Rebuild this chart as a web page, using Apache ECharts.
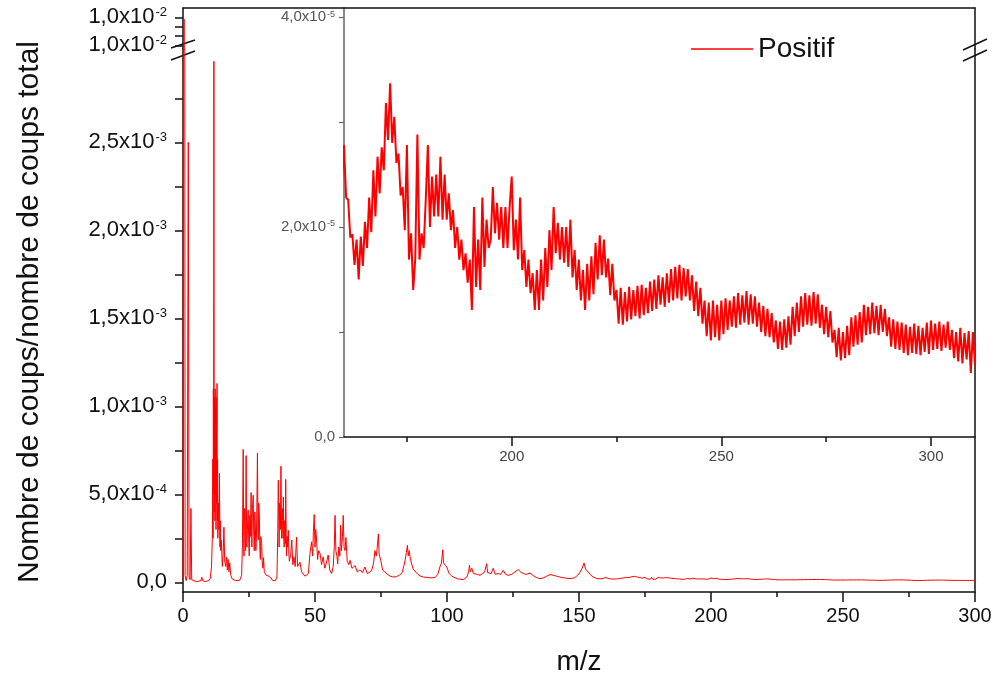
<!DOCTYPE html>
<html><head><meta charset="utf-8">
<script src="https://cdn.jsdelivr.net/npm/echarts@6/dist/echarts.min.js"></script>
<style>html,body{margin:0;padding:0;background:#fff}#c{width:996px;height:681px}</style>
</head><body><div id="c"></div>
<script>
// values in units of 1e-6 (counts / total counts)
const mainSpectrum = [
[0,8],[0.4,10020],[0.8,40],[1.2,10],[1.6,40],[2.0,2500],[2.3,30],[2.7,15],[3.0,420],[3.3,15],[4.0,5],[5.0,4],[6.0,6],[6.8,10],[7.1,30],[7.5,8],[8.5,5],[9.5,8],
[10.3,20],[10.8,90],[11.1,250],[11.3,700],[11.4,250],[11.5,1100],[11.6,500],[11.7,2960],[11.8,900],[11.9,400],[12.0,1050],[12.1,350],[12.2,1100],[12.3,500],[12.4,1000],[12.5,300],[12.6,1050],[12.7,450],[12.8,800],[12.9,1130],[13.0,350],[13.1,700],[13.2,250],[13.4,450],[13.6,300],[13.8,620],[14.0,200],[14.1,350],[14.3,180],[14.5,240],[14.9,90],[15.2,160],[15.5,313],[15.8,120],[16.2,90],[16.5,144],[16.8,70],[17.1,130],[17.4,60],[17.7,110],[18.1,40],[18.6,20],[19.5,12],[20.5,10],[21.5,12],
[22.2,40],[22.5,200],[22.8,755],[23.0,250],[23.1,150],[23.3,420],[23.5,300],[23.7,180],[23.9,720],[24.1,300],[24.2,200],[24.5,350],[24.7,410],[24.9,220],[25.1,150],[25.3,380],[25.5,260],[25.8,510],[26.0,250],[26.1,200],[26.3,420],[26.6,495],[26.8,260],[27.0,180],[27.2,400],[27.4,320],[27.6,180],[27.8,250],[28.0,450],[28.2,735],[28.4,300],[28.5,240],[28.7,450],[28.9,390],[29.1,200],[29.3,130],[29.5,260],[29.8,220],[30.0,120],[30.3,80],[30.5,140],[30.8,60],[31.5,40],[32.5,35],[33.3,25],[34.0,10],[35.0,10],
[35.6,30],[35.9,300],[36.1,580],[36.3,350],[36.4,200],[36.6,450],[36.7,400],[36.9,300],[37.1,660],[37.3,350],[37.4,250],[37.6,420],[37.7,380],[37.9,250],[38.0,485],[38.2,280],[38.3,200],[38.5,350],[38.6,300],[38.8,220],[38.9,585],[39.1,250],[39.2,150],[39.4,260],[39.5,200],[39.9,295],[40.1,160],[40.3,120],[40.8,160],[41.2,240],[41.6,100],[42.0,145],[42.5,90],[43.0,257],[43.4,90],[43.9,80],[44.3,115],[44.9,60],[45.6,50],[46.2,35],[46.8,30],
[47.5,50],[48.1,165],[48.7,230],[49.1,150],[49.4,290],[49.7,385],[50.0,200],[50.3,300],[50.6,240],[51.0,130],[51.4,180],[51.9,165],[52.5,100],[53.1,145],[53.7,80],[54.3,110],[55.0,155],[55.6,70],[56.3,50],
[56.9,90],[57.3,200],[57.6,380],[57.9,180],[58.3,150],[58.6,105],[59.0,200],[59.4,150],[59.7,325],[60.0,180],[60.4,260],[60.7,380],[61.0,200],[61.4,180],[61.7,255],[62.2,120],[62.8,100],[63.3,125],[64.0,80],[64.6,70],[65.2,95],[66.0,60],[67.0,70],[68.0,55],[68.9,87],[69.8,50],[70.8,58],
[71.5,70],[72.2,110],[72.7,180],[73.2,150],[73.6,200],[74.0,275],[74.3,160],[74.9,125],[75.6,70],[76.5,58],[77.5,45],[78.5,35],[79.7,30],[80.8,32],[82.0,40],[83.0,55],[83.6,90],[84.2,130],[84.6,170],[85.0,210],[85.3,150],[85.7,180],[86.0,145],[86.5,110],[87.2,75],[87.9,70],[89.0,45],[90.0,35],[91.0,30],[92.5,28],[94.0,25],[95.5,28],
[96.5,45],[97.3,87],[97.9,110],[98.4,185],[98.7,110],[99.2,100],[99.9,87],[100.8,50],[101.6,38],[102.4,30],[104.0,20],[106.2,15],[107.5,30],[108.2,60],[108.5,97],[108.8,60],[109.4,80],[110.0,50],[110.6,58],[111.5,45],[112.5,40],[113.5,50],[114.3,60],[115.0,106],[115.4,55],[116.0,58],[116.7,50],[117.5,80],[118.3,45],[119.4,50],[120.3,45],[121.3,68],[122.2,45],[123.2,40],
[124.5,45],[125.8,60],[127.0,72],[128.0,58],[128.9,50],[130.0,45],[131.4,53],[132.5,40],[133.8,28],[135.2,21],[136.5,25],[137.8,35],[139.0,44],[140.2,40],[141.5,35],[142.8,30],[144.5,25],[146.6,21],[148.2,25],[149.5,40],[150.4,58],[151.2,80],[151.9,110],[152.5,75],[153.5,58],[154.5,40],[155.5,30],[156.7,21],[158.0,20],[159.2,22]
];
const tailSpectrum = [
[160,27.8],[160.5,22.8],[161,22.6],[161.5,19.0],[162,19.3],[162.5,16.4],[163,18.8],[163.5,15.0],[164,19.1],[164.5,16.3],[165,20.5],[165.5,18.0],[166,22.8],[166.5,19.5],[167,25.4],[167.5,21.0],[168,26.7],[168.5,23.2],[169,27.6],[169.5,25.4],
[170,31.8],[170.5,28.3],[171,33.7],[171.5,28.0],[172,30.5],[172.5,26.1],[173,27.0],[173.5,23.0],[174,23.8],[174.5,19.7],[175,27.8],[175.5,16.9],[176,19.4],[176.5,14.0],[177,17.0],[177.5,28.8],[178,16.9],[178.5,19.4],[179,18.0],[179.5,22.6],
[180,27.8],[180.5,20.0],[181,24.8],[181.5,21.0],[182,25.0],[182.5,21.0],[183,26.7],[183.5,20.7],[184,25.0],[184.5,20.7],[185,23.2],[185.5,19.7],[186,21.6],[186.5,18.0],[187,20.0],[187.5,16.9],[188,18.8],[188.5,15.9],[189,17.5],[189.5,14.7],
[190,16.9],[190.5,12.1],[191,21.9],[191.5,14.3],[192,18.8],[192.5,14.0],[193,22.8],[193.5,16.2],[194,20.7],[194.5,18.0],[195,18.8],[195.5,23.8],[196,19.4],[196.5,22.3],[197,18.8],[197.5,21.9],[198,18.0],[198.5,21.9],[199,18.0],[199.5,21.9],
[200,24.8],[200.5,17.8],[201,20.7],[201.5,16.9],[202,22.8],[202.5,15.9],[203,17.8],[203.5,14.3],[204,16.9],[204.5,13.7],[205,15.6],[205.5,12.1],[206,15.9],[206.5,12.1],[207,16.9],[207.5,13.0],[208,18.0],[208.5,14.3],[209,19.7],[209.5,15.9],
[210,21.9],[210.5,17.5],[211,20.4],[211.5,16.9],[212,20.0],[212.5,16.6],[213,20.0],[213.5,16.2],[214,20.7],[214.5,15.2],[215,17.8],[215.5,14.0],[216,16.9],[216.5,13.0],[217,15.9],[217.5,12.1],[218,16.5],[218.5,13.0],[219,17.2],[219.5,13.6],
[220,18.5],[220.5,15.0],[221,19.2],[221.5,15.4],[222,18.8],[222.5,15.2],[223,17.0],[223.5,13.5],[224,16.5],[224.5,13.0],[225,14.0],[225.5,10.8],[226,14.2],[226.5,10.7],[227,13.8],[227.5,11.0],[228,14.3],[228.5,11.2],[229,14.0],[229.5,11.5],
[230,14.4],[230.5,11.3],[231,14.5],[231.5,11.6],[232,14.2],[232.5,11.8],[233,14.8],[233.5,12.0],[234,15.0],[234.5,12.2],[235,15.4],[235.5,12.6],[236,15.2],[236.5,12.4],[237,15.6],[237.5,12.8],[238,16.0],[238.5,13.0],[239,16.2],[239.5,13.2],
[240,16.4],[240.5,13.0],[241,16.1],[241.5,13.4],[242,16.0],[242.5,13.0],[243,15.4],[243.5,12.0],[244,14.8],[244.5,11.5],[245,14.2],[245.5,10.8],[246,13.0],[246.5,9.6],[247,12.8],[247.5,9.2],[248,13.0],[248.5,9.5],[249,12.6],[249.5,9.2],
[250,13.0],[250.5,9.8],[251,13.2],[251.5,10.2],[252,13.0],[252.5,10.5],[253,13.4],[253.5,10.4],[254,13.7],[254.5,10.7],[255,13.5],[255.5,10.9],[256,13.9],[256.5,10.7],[257,13.6],[257.5,10.8],[258,13.4],[258.5,10.5],[259,12.8],[259.5,10.0],
[260,12.5],[260.5,9.6],[261,12.2],[261.5,9.5],[262,11.8],[262.5,9.0],[263,11.1],[263.5,8.4],[264,11.0],[264.5,8.3],[265,11.2],[265.5,8.5],[266,11.5],[266.5,8.8],[267,12.4],[267.5,9.6],[268,12.8],[268.5,10.0],[269,13.4],[269.5,10.5],
[270,13.7],[270.5,10.7],[271,13.5],[271.5,10.6],[272,13.8],[272.5,10.8],[273,13.6],[273.5,10.4],[274,12.6],[274.5,9.8],[275,12.4],[275.5,9.5],[276,12.0],[276.5,9.0],[277,10.2],[277.5,7.6],[278,10.4],[278.5,7.3],[279,10.0],[279.5,7.5],
[280,10.6],[280.5,7.8],[281,11.4],[281.5,8.6],[282,11.6],[282.5,8.8],[283,11.9],[283.5,9.0],[284,12.6],[284.5,9.7],[285,12.4],[285.5,9.8],[286,12.8],[286.5,9.9],[287,12.5],[287.5,9.7],[288,12.6],[288.5,10.0],[289,12.2],[289.5,9.6],
[290,11.4],[290.5,8.6],[291,11.2],[291.5,8.4],[292,11.0],[292.5,8.3],[293,10.9],[293.5,8.0],[294,10.7],[294.5,7.8],[295,10.5],[295.5,8.0],[296,10.8],[296.5,7.9],[297,10.6],[297.5,7.8],[298,10.4],[298.5,8.1],[299,10.9],[299.5,7.9],
[300,11.1],[300.5,8.3],[301,10.8],[301.5,8.4],[302,11.0],[302.5,8.2],[303,10.7],[303.5,8.5],[304,11.0],[304.5,8.3],[305,10.2],[305.5,7.5],[306,10.0],[306.5,7.2],[307,10.4],[307.5,7.0],[308,9.9],[308.5,7.4],[309,10.1],[309.5,6.1],[310,10.0],[310.5,6.9]
];
const seriesName = 'Positif';
const mainXTicks = [0,50,100,150,200,250,300];
const lowerYTicks = [0,250,500,750,1000,1250,1500,1750,2000,2250,2500,2750];
const lowerYLabelValues = [0,500,1000,1500,2000,2500];
const lowerYLabels = ['0,0','5,0x10|-4','1,0x10|-3','1,5x10|-3','2,0x10|-3','2,5x10|-3'];
const upperYTicks = [9950,9975,10000,10025];
const upperYLabelValues = [9950,10025];
const upperYLabels = ['1,0x10|-2','1,0x10|-2'];
const insetXMajor = [200,250,300];
const insetXMinor = [175,225,275];
const insetYTicks = [0,10,20,30,40];
const insetYLabelValues = [0,20,40];
const insetYLabels = ['0,0','2,0x10|-5','4,0x10|-5'];
const xTitle = 'm/z';
const yTitle = 'Nombre de coups/nombre de coups total';

const FONT = 'Liberation Sans, Arial, sans-serif';
const data = mainSpectrum.concat(tailSpectrum);

function labelFmt(vals, labels) {
  return function (v) {
    const i = vals.indexOf(v);
    if (i < 0) return '';
    const parts = labels[i].split('|');
    return parts.length > 1 ? '{b|' + parts[0] + '}{s|' + parts[1] + '}' : '{b|' + parts[0] + '}';
  };
}
function rich(big, small, color, lift) {
  return {
    b: { fontSize: big, fontFamily: FONT, color: color, lineHeight: big + 2 },
    s: { fontSize: small, fontFamily: FONT, color: color, lineHeight: small, padding: [0, 0, lift, 1] }
  };
}

const chart = echarts.init(document.getElementById('c'));
const axisBlack = { lineStyle: { color: '#111', width: 1.5 } };

chart.setOption({
  animation: false,
  backgroundColor: '#fff',
  grid: [
    { left: 183, right: 21, top: 8, height: 41 },
    { left: 183, right: 21, top: 49, bottom: 89 },
    { left: 344, right: 21, top: 8, bottom: 244 }
  ],
  legend: {
    data: [{ name: seriesName, icon: 'rect' }], left: 686, top: 30, itemWidth: 62, itemHeight: 1.5, itemGap: 6,
    textStyle: { fontSize: 28, fontFamily: FONT, color: '#111' }
  },
  xAxis: [
    { gridIndex: 0, type: 'value', min: 0, max: 300, position: 'top',
      axisLine: { show: true, onZero: false, ...axisBlack }, axisTick: { show: false }, axisLabel: { show: false }, splitLine: { show: false } },
    { gridIndex: 1, type: 'value', min: 0, max: 300, interval: 50, position: 'bottom',
      axisLine: { show: true, onZero: false, ...axisBlack },
      axisTick: { show: true, length: 10, lineStyle: { color: '#111', width: 1.5 } },
      minorTick: { show: true, splitNumber: 2, length: 5, lineStyle: { color: '#111', width: 1.5 } },
      axisLabel: { fontSize: 20, fontFamily: FONT, color: '#111', margin: 14,
        formatter: v => (mainXTicks.indexOf(v) >= 0 ? String(v) : '') },
      splitLine: { show: false },
      name: xTitle, nameLocation: 'middle', nameGap: 56,
      nameTextStyle: { fontSize: 28, fontFamily: FONT, color: '#111' } },
    { gridIndex: 2, type: 'value', min: 160, max: 310.5, position: 'bottom',
      axisLine: { show: true, onZero: false, ...axisBlack },
      axisTick: { show: true, length: 9, customValues: insetXMajor, lineStyle: { color: '#111', width: 1.5 } },
      axisLabel: { customValues: insetXMajor, fontSize: 15, fontFamily: FONT, color: '#444', margin: 12 },
      splitLine: { show: false } },
    { gridIndex: 2, type: 'value', min: 160, max: 310.5, position: 'bottom', offset: 0,
      axisLine: { show: false, onZero: false },
      axisTick: { show: true, length: 5, customValues: insetXMinor, lineStyle: { color: '#111', width: 1.5 } },
      axisLabel: { show: false }, splitLine: { show: false } }
  ],
  yAxis: [
    { gridIndex: 0, type: 'value', min: 9940, max: 10050, position: 'left',
      axisLine: { show: true, onZero: false, ...axisBlack },
      axisTick: { show: true, length: 8, customValues: upperYTicks, lineStyle: { color: '#111', width: 1.5 } },
      axisLabel: { customValues: upperYLabelValues, margin: 16, formatter: labelFmt(upperYLabelValues, upperYLabels), rich: rich(22, 13, '#111', 9) },
      splitLine: { show: false } },
    { gridIndex: 1, type: 'value', min: -55, max: 3030, position: 'left',
      axisLine: { show: true, onZero: false, ...axisBlack },
      axisTick: { show: true, length: 8, customValues: lowerYTicks, lineStyle: { color: '#111', width: 1.5 } },
      axisLabel: { customValues: lowerYLabelValues, margin: 16, formatter: labelFmt(lowerYLabelValues, lowerYLabels), rich: rich(22, 13, '#111', 9) },
      splitLine: { show: false } },
    { gridIndex: 2, type: 'value', min: 0, max: 40.86, position: 'left',
      axisLine: { show: true, onZero: false, lineStyle: { color: '#666', width: 1.5 } },
      axisTick: { show: true, length: 5, customValues: insetYTicks, lineStyle: { color: '#666', width: 1.2 } },
      axisLabel: { customValues: insetYLabelValues, margin: 9, formatter: labelFmt(insetYLabelValues, insetYLabels), rich: rich(15, 9, '#555', 6) },
      splitLine: { show: false } },
    { gridIndex: 1, type: 'value', position: 'right', axisLine: { show: true, onZero: false, ...axisBlack },
      axisTick: { show: false }, axisLabel: { show: false }, splitLine: { show: false } },
    { gridIndex: 0, type: 'value', position: 'right', axisLine: { show: true, onZero: false, ...axisBlack },
      axisTick: { show: false }, axisLabel: { show: false }, splitLine: { show: false } }
  ],
  series: [
    { name: seriesName, type: 'line', xAxisIndex: 1, yAxisIndex: 1, data: data, symbol: 'none', showSymbol: false,
      clip: true, lineStyle: { color: '#ff0000', width: 1 }, itemStyle: { color: '#ff0000' } },
    { name: seriesName, type: 'line', xAxisIndex: 0, yAxisIndex: 0, data: data, symbol: 'none', showSymbol: false,
      clip: true, lineStyle: { color: '#ff0000', width: 1 }, itemStyle: { color: '#ff0000' } },
    { name: seriesName, type: 'line', xAxisIndex: 2, yAxisIndex: 2, data: data, symbol: 'none', showSymbol: false,
      clip: true, lineStyle: { color: '#ff0000', width: 2 }, itemStyle: { color: '#ff0000' } }
  ],
  graphic: [
    { type: 'text', x: 30, y: 312, rotation: Math.PI / 2,
      style: { text: yTitle, font: '30px ' + FONT, fill: '#111', align: 'center', verticalAlign: 'middle', textAlign: 'center', textVerticalAlign: 'middle' } },
    { type: 'line', shape: { x1: 171, y1: 48, x2: 195, y2: 40 }, style: { stroke: '#111', lineWidth: 1.5 } },
    { type: 'line', shape: { x1: 171, y1: 60, x2: 195, y2: 51 }, style: { stroke: '#111', lineWidth: 1.5 } },
    { type: 'line', shape: { x1: 963, y1: 50, x2: 987, y2: 39 }, style: { stroke: '#111', lineWidth: 1.5 } },
    { type: 'line', shape: { x1: 963, y1: 61, x2: 987, y2: 50 }, style: { stroke: '#111', lineWidth: 1.5 } }
  ]
});
</script></body></html>
